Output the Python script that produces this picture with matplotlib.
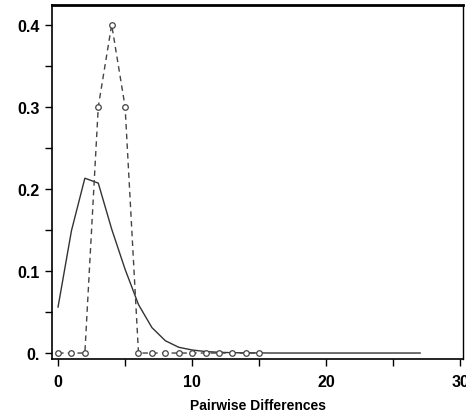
import numpy as np
import matplotlib
matplotlib.use('Agg')
import matplotlib.pyplot as plt
from matplotlib.ticker import FixedLocator

# ── Data ─────────────────────────────────────────────────────────────────────
obs_x = list(range(0, 16))
obs_y = [0, 0, 0, 0.3, 0.4, 0.3, 0, 0, 0, 0, 0, 0, 0, 0, 0, 0]

exp_x = list(range(0, 28))
exp_y = [0.056, 0.149, 0.213, 0.207, 0.151, 0.102, 0.059, 0.031, 0.015,
         0.007, 0.0037, 0.0018, 0.0009, 0.0004, 0.0002, 0.0001, 0, 0, 0, 0,
         0, 0, 0, 0, 0, 0, 0, 0]

x_ticks = [0, 10, 20, 30]
y_ticks = [0, 0.1, 0.2, 0.3, 0.4]
y_tick_labels = ['0.', '0.1', '0.2', '0.3', '0.4']

plt.rcParams['font.family'] = ['Liberation Sans Narrow', 'Liberation Sans', 'DejaVu Sans']

fig = plt.figure(figsize=(4.66, 4.14), dpi=100)
ax = fig.add_axes([0.1116, 0.1304, 0.8820, 0.8551])

ax.plot(exp_x, exp_y, color='#333333', linewidth=1.0, solid_joinstyle='miter')
ax.plot(obs_x, obs_y, color='#444444', linewidth=1.0, linestyle=(0, (4, 3)),
        marker='o', markersize=4.0, markerfacecolor='white',
        markeredgecolor='#444444', markeredgewidth=0.9)

ax.set_xlim(-0.45, 30.2)
ax.set_ylim(-0.0073, 0.424)

ax.xaxis.set_major_locator(FixedLocator(x_ticks))
ax.xaxis.set_minor_locator(FixedLocator([5, 15, 25]))
ax.yaxis.set_major_locator(FixedLocator(y_ticks))
ax.yaxis.set_minor_locator(FixedLocator([0.05, 0.15, 0.25, 0.35]))
ax.set_yticklabels(y_tick_labels)

ax.tick_params(axis='both', which='both', direction='out', length=5,
               width=1.0, color='black')
ax.tick_params(axis='y', which='major', labelsize=11.5, pad=4)
ax.tick_params(axis='x', which='major', labelsize=11.5, pad=6)
for lab in ax.get_xticklabels() + ax.get_yticklabels():
    lab.set_fontweight('bold')

ax.set_xlabel('Pairwise Differences', fontsize=10, fontweight='bold', labelpad=6)

for name, spine in ax.spines.items():
    spine.set_color('black')
    spine.set_linewidth(1.0)
ax.spines['top'].set_linewidth(2.0)
ax.spines['left'].set_linewidth(1.2)
ax.spines['bottom'].set_linewidth(1.2)

fig.savefig('out.png', dpi=100)
